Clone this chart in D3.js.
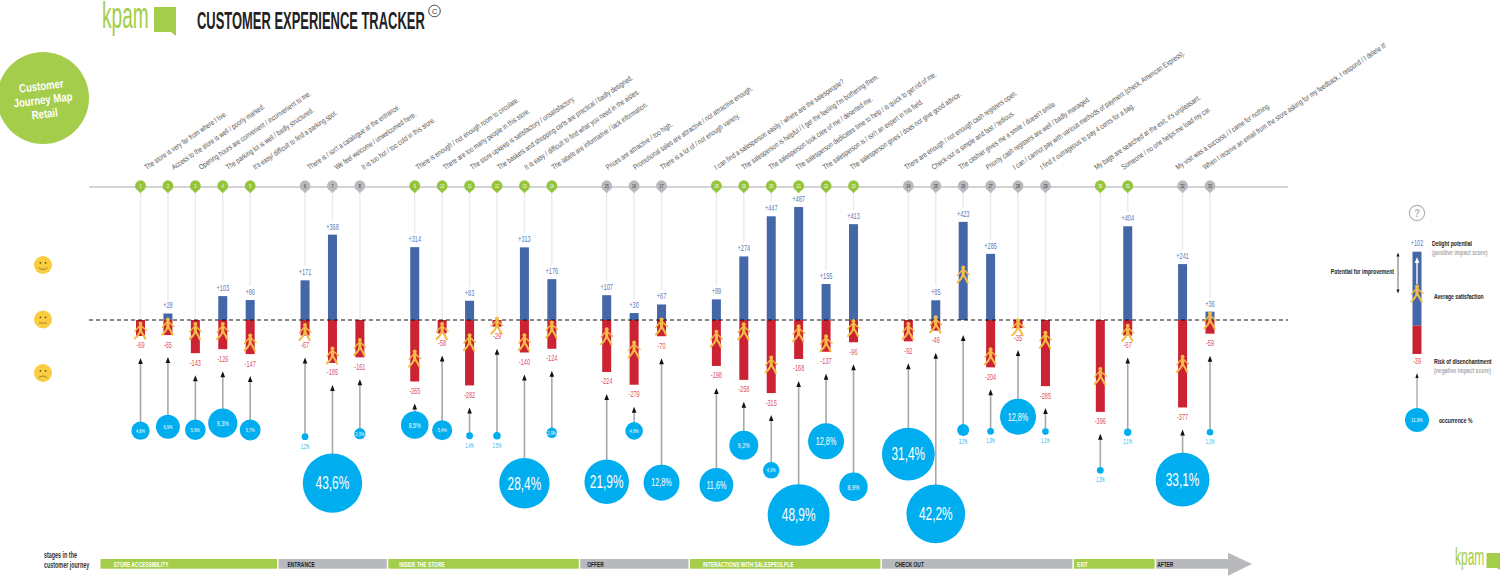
<!DOCTYPE html>
<html>
<head>
<meta charset="utf-8">
<style>
  html, body { margin: 0; padding: 0; background: #fff; overflow: hidden; }
  text { font-family: "Liberation Sans", Arial, sans-serif; }
</style>
</head>
<body>
<svg id="chart" width="1500" height="576"></svg>
<script src="https://d3js.org/d3.v7.min.js"></script>
<script>
  const stageNames = ["STORE ACCESSIBILITY", "ENTRANCE", "INSIDE THE STORE", "OFFER", "INTERACTIONS WITH SALESPEOLPLE", "CHECK OUT", "EXIT", "AFTER"];
  const stageSizes = [5, 3, 6, 3, 6, 6, 2, 2];

  const statements = [
    "The store is very far from where I live.",
    "Access to the store is well / poorly marked.",
    "Opening hours are convenient / inconvenient to me.",
    "The parking lot is well / badly structured.",
    "It's easy/ difficult to find a parking spot.",
    "There is / isn't a catalogue at the entrance.",
    "We feel welcome / unwelcomed here.",
    "It is too hot / too cold in this store.",
    "There is enough / not enough room to circulate.",
    "There are too many people in this store.",
    "The store upkeep is satisfactory / unsatisfactory.",
    "The baskets and shopping carts are practical / badly designed.",
    "It is easy / difficult to find what you need in the aisles.",
    "The labels are informative / lack information.",
    "Prices are attractive / too high.",
    "Promotional sales are attractive / not attractive enough.",
    "There is a lot of / not enough variety.",
    "I can find a salesperson easily / where are the salespeople?",
    "The salesperson is helpful / I get the feeling I'm bothering them.",
    "The salesperson took care of me / deserted me.",
    "The salesperson dedicates time to help / is quick to get rid of me.",
    "The salesperson is / isn't an expert in his field.",
    "The salesperson gives / does not give good advice.",
    "There are enough / not enough cash registers open.",
    "Check-out is simple and fast / tedious.",
    "The cashier gives me a smile / doesn't smile.",
    "Priority cash registers are well / badly managed.",
    "I can / cannot pay with various methods of payment (check, American Express).",
    "I find it outrageous to pay 4 cents for a bag.",
    "My bags are searched at the exit, it's unpleasant.",
    "Someone / no one helps me load my car.",
    "My visit was a success / I came for nothing.",
    "When I receive an email from the store asking for my feedback, I respond / I delete it!"
  ];

  const delight = [null, 28, null, 103, 86, 171, 368, null, 314, null, 83, null, 313, 176, 107, 30, 67, 89, 274, 447, 487, 155, 413, null, 85, 423, 285, null, null, null, 404, 241, 36];
  const risk = [-69, -65, -143, -126, -147, -67, -185, -161, -265, -58, -282, -29, -140, -124, -224, -279, -70, -198, -258, -315, -168, -137, -96, -92, -46, null, -204, -35, -285, -396, -67, -377, -59];
  const satisfaction = [-43, -26, -46, -46, -95, -50, -151, -115, -164, -46, -94, -22, -94, -39, -68, -125, -26, -79, -47, -190, -55, -98, -33, -46, -17, 198, -154, -29, -83, -240, -53, -187, 0];
  const occurrence = [4.8, 6.9, 5.6, 9.3, 5.7, 1.2, 43.6, 3.0, 8.5, 5.4, 1.4, 2.5, 28.4, 2.9, 21.9, 4.6, 12.8, 11.6, 9.2, 4.3, 48.9, 12.8, 8.9, 31.4, 42.2, 3.2, 1.3, 12.8, 1.1, 1.3, 2.1, 33.1, 1.1];
  // how far below the line each bubble hangs, in score units
  const bubbleDepth = [477, 460, 473, 444, 474, 503, 703, 490, 453, 475, 499, 499, 704, 486, 697, 478, 701, 711, 540, 648, 841, 523, 719, 578, 836, 474, 480, 417, 481, 648, 484, 688, 484];
  // touchpoints whose percentage sits under the bubble
  const labelOutside = [6, 11, 12, 26, 27, 29, 30, 31, 33];

  const legendDelight = 102;
  const legendRisk = -39;
  const legendOccurrence = 11.9;

  const GREEN = "#a3cd4a", PIN_GREEN = "#94c43a", GREY = "#b8b9bd", BLUE = "#4467a7", RED = "#cb2333";
  const CYAN = "#00aeef", WALKER = "#f4bb47";
  const BAR_W = 9;

  const svg = d3.select("#chart");
  const comma = v => String(v.toFixed(1)).replace(".", ",") + "%";
  const signed = v => (v > 0 ? "+" : "") + v;

  // touchpoints laid out on slots, one empty slot between stages
  const points = [];
  const stages = [];
  let slot = 0;
  stageSizes.forEach((size, s) => {
    stages.push({ name: stageNames[s], start: slot - 1, end: slot + size, index: s });
    for (let i = 0; i < size; i++) {
      const n = points.length;
      points.push({
        n: n + 1, slot: slot + i, stage: s, text: statements[n],
        delight: delight[n], risk: risk[n], sat: satisfaction[n],
        occ: occurrence[n], depth: bubbleDepth[n]
      });
    }
    slot += size + 1;
  });

  const x = d3.scaleLinear().domain([0, 39]).range([140.5, 1210]);
  const textX = d3.scaleLinear().domain([0, 39]).range([146.7, 1205]);
  const y = d3.scaleLinear().domain([-1000, 1000]).range([552, 88]);
  const r = d3.scaleSqrt().domain([1.1, 2.5, 3, 5, 9, 12.8, 22, 31, 49]).range([3.3, 3.8, 5.6, 9.5, 14.3, 18, 22.3, 26.3, 31]);
  const labelSize = v => v >= 20 ? 18 : v >= 10 ? 11 : v >= 8 ? 8 : 6;
  const isGreen = d => d.stage % 2 === 0;
  const hasOutsideLabel = d => labelOutside.includes(d.n);

  function drawWalker(sel) {
    const limb = (d, w) => sel.append("path").attr("d", d)
      .attr("fill", "none").attr("stroke", WALKER).attr("stroke-width", w)
      .attr("stroke-linecap", "round").attr("stroke-linejoin", "round");
    limb("M0,-3.8 L0,1.2", 3.2);
    limb("M-1,-4 L-4,-0.8 L-5.6,1.4", 1.4);
    limb("M1,-4 L3.8,-1.2 L6,0.4", 1.4);
    limb("M-0.4,1.5 L-2.4,5 L-5.6,8.4", 2.1);
    limb("M0.6,1.5 L2.6,4.6 L4.6,8.6", 2.1);
    sel.append("circle").attr("cy", -6.6).attr("r", 2).attr("fill", WALKER);
  }

  function arrowHead(sel, px, tip, w = 2.3, h = 6) {
    sel.append("path")
      .attr("d", `M${px},${tip}L${px + w},${tip + h}L${px - w},${tip + h}Z`)
      .attr("fill", "#111");
  }

  // header
  svg.append("text").attr("x", 102).attr("y", 28).attr("font-size", 36).attr("data-sx", 0.53).attr("fill", GREEN).text("kpam");
  svg.append("path").attr("d", "M154,7H176V36L171,32H154Z").attr("fill", GREEN);
  svg.append("text").attr("x", 197).attr("y", 29.5).attr("font-size", 23).attr("data-sx", 0.563).attr("font-weight", 700).attr("fill", "#222")
    .text("CUSTOMER EXPERIENCE TRACKER");
  svg.append("circle").attr("cx", 434.5).attr("cy", 11).attr("r", 5.8).attr("fill", "none").attr("stroke", "#333").attr("stroke-width", 0.9);
  svg.append("text").attr("x", 434.5).attr("y", 13.8).attr("text-anchor", "middle").attr("font-size", 8).attr("data-sx", 0.9).attr("fill", "#333").text("C");

  // map badge
  svg.append("circle").attr("cx", 43).attr("cy", 98).attr("r", 46).attr("fill", GREEN);
  svg.append("g").attr("transform", "translate(43,100) rotate(-7)")
    .selectAll("text").data(["Customer", "Journey Map", "Retail"]).join("text")
    .attr("y", (d, i) => -10 + i * 14)
    .attr("text-anchor", "middle").attr("font-size", 12).attr("data-sx", 0.8).attr("font-weight", 700).attr("fill", "#fff")
    .text(d => d);

  // smileys
  const mouths = ["M-4.5,2.5Q0,6.5 4.5,2.5", "M-4,3.5H4", "M-4.5,5Q0,1 4.5,5"];
  const smile = svg.append("g").selectAll("g").data(mouths).join("g")
    .attr("transform", (d, i) => `translate(43,${[265, 319.5, 373][i]})`);
  smile.append("circle").attr("r", 9).attr("fill", "#f9cd3f");
  smile.append("path").attr("d", d => d).attr("fill", "none").attr("stroke", "#7a6a20").attr("stroke-width", 0.7);
  smile.append("circle").attr("cx", -2.6).attr("cy", -2.2).attr("r", 0.9).attr("fill", "#5d5020");
  smile.append("circle").attr("cx", 2.6).attr("cy", -2.2).attr("r", 0.9).attr("fill", "#5d5020");

  // statements along the top
  svg.append("g").selectAll("text").data(points).join("text")
    .attr("transform", d => `translate(${textX(d.slot)},170) rotate(-34.2)`)
    .attr("font-size", 7.6).attr("data-sx", 0.77).attr("fill", "#555")
    .text(d => d.text);

  // timeline
  svg.append("line").attr("x1", 89).attr("x2", 1288).attr("y1", 187).attr("y2", 187)
    .attr("stroke", "#c4c4c4").attr("stroke-width", 1.5);

  // stems from pin down to the bar label
  const stemEnd = d => d.delight != null ? y(d.delight) - 14 : y(0);
  svg.append("g").selectAll("line").data(points).join("line")
    .attr("x1", d => x(d.slot)).attr("x2", d => x(d.slot))
    .attr("y1", 192).attr("y2", stemEnd)
    .attr("stroke", "#ececec").attr("stroke-width", 1.5);

  const pins = svg.append("g").selectAll("g").data(points).join("g")
    .attr("transform", d => `translate(${x(d.slot)},185.7)`);
  pins.append("path").attr("d", "M-5,2.2 L0,7.5 L5,2.2Z").attr("fill", d => isGreen(d) ? PIN_GREEN : GREY);
  pins.append("circle").attr("r", 5.4).attr("fill", d => isGreen(d) ? PIN_GREEN : GREY);
  pins.append("text").attr("y", 1.9).attr("text-anchor", "middle").attr("font-size", 5.4)
    .attr("fill", d => isGreen(d) ? "#fff" : "#333").text(d => d.n);

  // bars
  svg.append("g").selectAll("rect").data(points.filter(d => d.delight != null)).join("rect")
    .attr("x", d => x(d.slot) - BAR_W / 2).attr("width", BAR_W)
    .attr("y", d => y(d.delight)).attr("height", d => y(0) - y(d.delight))
    .attr("fill", BLUE);
  svg.append("g").selectAll("rect").data(points.filter(d => d.risk != null)).join("rect")
    .attr("x", d => x(d.slot) - BAR_W / 2).attr("width", BAR_W)
    .attr("y", y(0)).attr("height", d => y(d.risk) - y(0))
    .attr("fill", RED);

  svg.append("g").selectAll("text").data(points.filter(d => d.delight != null)).join("text")
    .attr("x", d => x(d.slot)).attr("y", d => y(d.delight) - 5)
    .attr("text-anchor", "middle").attr("font-size", 8.6).attr("data-sx", 0.65).attr("fill", "#5a7cbc")
    .text(d => signed(d.delight));
  svg.append("g").selectAll("text").data(points.filter(d => d.risk != null)).join("text")
    .attr("x", d => x(d.slot)).attr("y", d => y(d.risk) + 12.5)
    .attr("text-anchor", "middle").attr("font-size", 8.6).attr("data-sx", 0.65).attr("fill", "#e2505e")
    .text(d => signed(d.risk));

  // zero line sits over the bars, walkers over the line
  svg.append("line").attr("x1", 89).attr("x2", 1288).attr("y1", y(0)).attr("y2", y(0))
    .attr("stroke", "#111").attr("stroke-width", 1.1).attr("stroke-dasharray", "4,3");

  svg.append("g").selectAll("g").data(points).join("g")
    .attr("transform", d => `translate(${x(d.slot)},${y(d.sat)})`)
    .each(function () { drawWalker(d3.select(this)); });

  // occurrence arrows and bubbles
  const arrows = svg.append("g");
  points.forEach(d => {
    const px = x(d.slot);
    const tip = d.risk != null ? y(d.risk) + 22 : y(0) + 15;
    arrows.append("line").attr("x1", px).attr("x2", px)
      .attr("y1", tip + 4).attr("y2", y(-d.depth) - r(d.occ) + 1)
      .attr("stroke", "#a8a8a8").attr("stroke-width", 1.6);
    arrowHead(arrows, px, tip);
  });

  svg.append("g").selectAll("circle").data(points).join("circle")
    .attr("cx", d => x(d.slot)).attr("cy", d => y(-d.depth)).attr("r", d => r(d.occ))
    .attr("fill", CYAN);

  svg.append("g").selectAll("text").data(points).join("text")
    .attr("x", d => x(d.slot))
    .attr("y", d => hasOutsideLabel(d) ? y(-d.depth) + r(d.occ) + 8.5 : y(-d.depth) + labelSize(d.occ) * 0.35)
    .attr("text-anchor", "middle")
    .attr("font-size", d => hasOutsideLabel(d) ? 6.5 : labelSize(d.occ))
    .attr("data-sx", d => hasOutsideLabel(d) ? 0.56 : 0.66)
    .attr("fill", d => hasOutsideLabel(d) ? CYAN : "#fff")
    .text(d => comma(d.occ));

  // journey stages
  svg.append("text").attr("x", 44).attr("y", 558).attr("font-size", 9).attr("data-sx", 0.6).attr("font-weight", 700).attr("fill", "#333").text("stages in the");
  svg.append("text").attr("x", 44).attr("y", 568).attr("font-size", 9).attr("data-sx", 0.6).attr("font-weight", 700).attr("fill", "#333").text("customer journey");

  const labelPad = [13, 9, 11, 7, 13, 13, 3, 1];
  const stageLeft = d => d.index === 0 ? 100.5 : x(d.start) + 1;
  const stageRight = d => d.index === stages.length - 1 ? 1228 : x(d.end) - 0.5;
  const band = svg.append("g").selectAll("g").data(stages).join("g");
  band.append("rect")
    .attr("x", stageLeft).attr("width", d => stageRight(d) - stageLeft(d))
    .attr("y", 559).attr("height", 9.7)
    .attr("fill", d => d.index % 2 === 0 ? GREEN : GREY);
  band.append("text")
    .attr("x", d => stageLeft(d) + labelPad[d.index]).attr("y", 566.8)
    .attr("font-size", 8).attr("data-sx", 0.61).attr("font-weight", 700)
    .attr("fill", d => d.index % 2 === 0 ? "#fff" : "#222")
    .text(d => d.name);
  svg.append("path").attr("d", "M1228,552.7L1252,564L1228,575.7Z").attr("fill", GREY);

  // legend ("how to read")
  const lx = 1417;
  const ly = d3.scaleLinear().domain([legendRisk, legendDelight]).range([354, 251.7]);
  const legend = svg.append("g");
  legend.append("circle").attr("cx", lx).attr("cy", 213).attr("r", 7.7).attr("fill", "none").attr("stroke", "#b5b5b5").attr("stroke-width", 1.2);
  legend.append("text").attr("x", lx).attr("y", 217).attr("text-anchor", "middle").attr("font-size", 11).attr("data-sx", 0.85).attr("font-weight", 700).attr("fill", "#b5b5b5").text("?");
  legend.append("rect").attr("x", lx - 4.5).attr("width", 9).attr("y", ly(legendDelight)).attr("height", ly(0) - ly(legendDelight)).attr("fill", BLUE);
  legend.append("rect").attr("x", lx - 4.5).attr("width", 9).attr("y", ly(0)).attr("height", ly(legendRisk) - ly(0)).attr("fill", RED);
  legend.append("line").attr("x1", lx).attr("x2", lx).attr("y1", 284).attr("y2", 262).attr("stroke", "#fff").attr("stroke-width", 1.4);
  legend.append("path").attr("d", `M${lx},257L${lx + 2.3},263H${lx - 2.3}Z`).attr("fill", "#fff");
  drawWalker(legend.append("g").attr("transform", `translate(${lx},293)`));
  legend.append("text").attr("x", lx).attr("y", 246).attr("text-anchor", "middle").attr("font-size", 8.6).attr("data-sx", 0.65).attr("fill", "#5a7cbc").text(signed(legendDelight));
  legend.append("text").attr("x", lx).attr("y", 364).attr("text-anchor", "middle").attr("font-size", 8.6).attr("data-sx", 0.65).attr("fill", "#e2505e").text(signed(legendRisk));
  legend.append("line").attr("x1", 1398).attr("x2", 1398).attr("y1", 256).attr("y2", 290).attr("stroke", "#444").attr("stroke-width", 0.8);
  arrowHead(legend, 1398, 252.5, 1.5, 4);
  legend.append("path").attr("d", "M1398,293.5L1399.5,289.5H1396.5Z").attr("fill", "#111");
  legend.append("line").attr("x1", lx).attr("x2", lx).attr("y1", 378).attr("y2", 408).attr("stroke", "#888").attr("stroke-width", 1);
  arrowHead(legend, lx, 373, 1.6, 5);
  legend.append("circle").attr("cx", lx).attr("cy", 420).attr("r", 12).attr("fill", CYAN);
  legend.append("text").attr("x", lx).attr("y", 422).attr("text-anchor", "middle").attr("font-size", 6.2).attr("data-sx", 0.66).attr("fill", "#fff").text(comma(legendOccurrence));

  const legendText = [
    ["Delight potential", 1432, 246.5, "#222", "start"],
    ["(positive impact score)", 1432, 255, "#aaa", "start"],
    ["Potential for improvement", 1394, 274.5, "#222", "end"],
    ["Average satisfaction", 1434, 299, "#222", "start"],
    ["Risk of disenchantment", 1434, 364, "#222", "start"],
    ["(negative impact score)", 1434, 373, "#aaa", "start"],
    ["occurrence %", 1439, 423, "#222", "start"]
  ];
  legend.selectAll("text.note").data(legendText).join("text")
    .attr("class", "note")
    .attr("x", d => d[1]).attr("y", d => d[2]).attr("fill", d => d[3]).attr("text-anchor", d => d[4])
    .attr("font-size", 7.5).attr("font-weight", 700)
    .text(d => d[0]);

  // small logo bottom right
  svg.append("text").attr("x", 1455).attr("y", 565).attr("font-size", 23).attr("data-sx", 0.52).attr("fill", GREEN).text("kpam");
  svg.append("path").attr("d", "M1486.5,553H1500V570L1497,568H1486.5Z").attr("fill", GREEN);

  // no condensed face is installed, so squeeze the type horizontally
  svg.selectAll("text").each(function () {
    const sx = +this.getAttribute("data-sx") || 0.68;
    const px = +this.getAttribute("x") || 0;
    const t = this.getAttribute("transform") || "";
    this.setAttribute("x", px / sx);
    this.setAttribute("transform", `${t} scale(${sx},1)`);
  });
</script>
</body>
</html>
